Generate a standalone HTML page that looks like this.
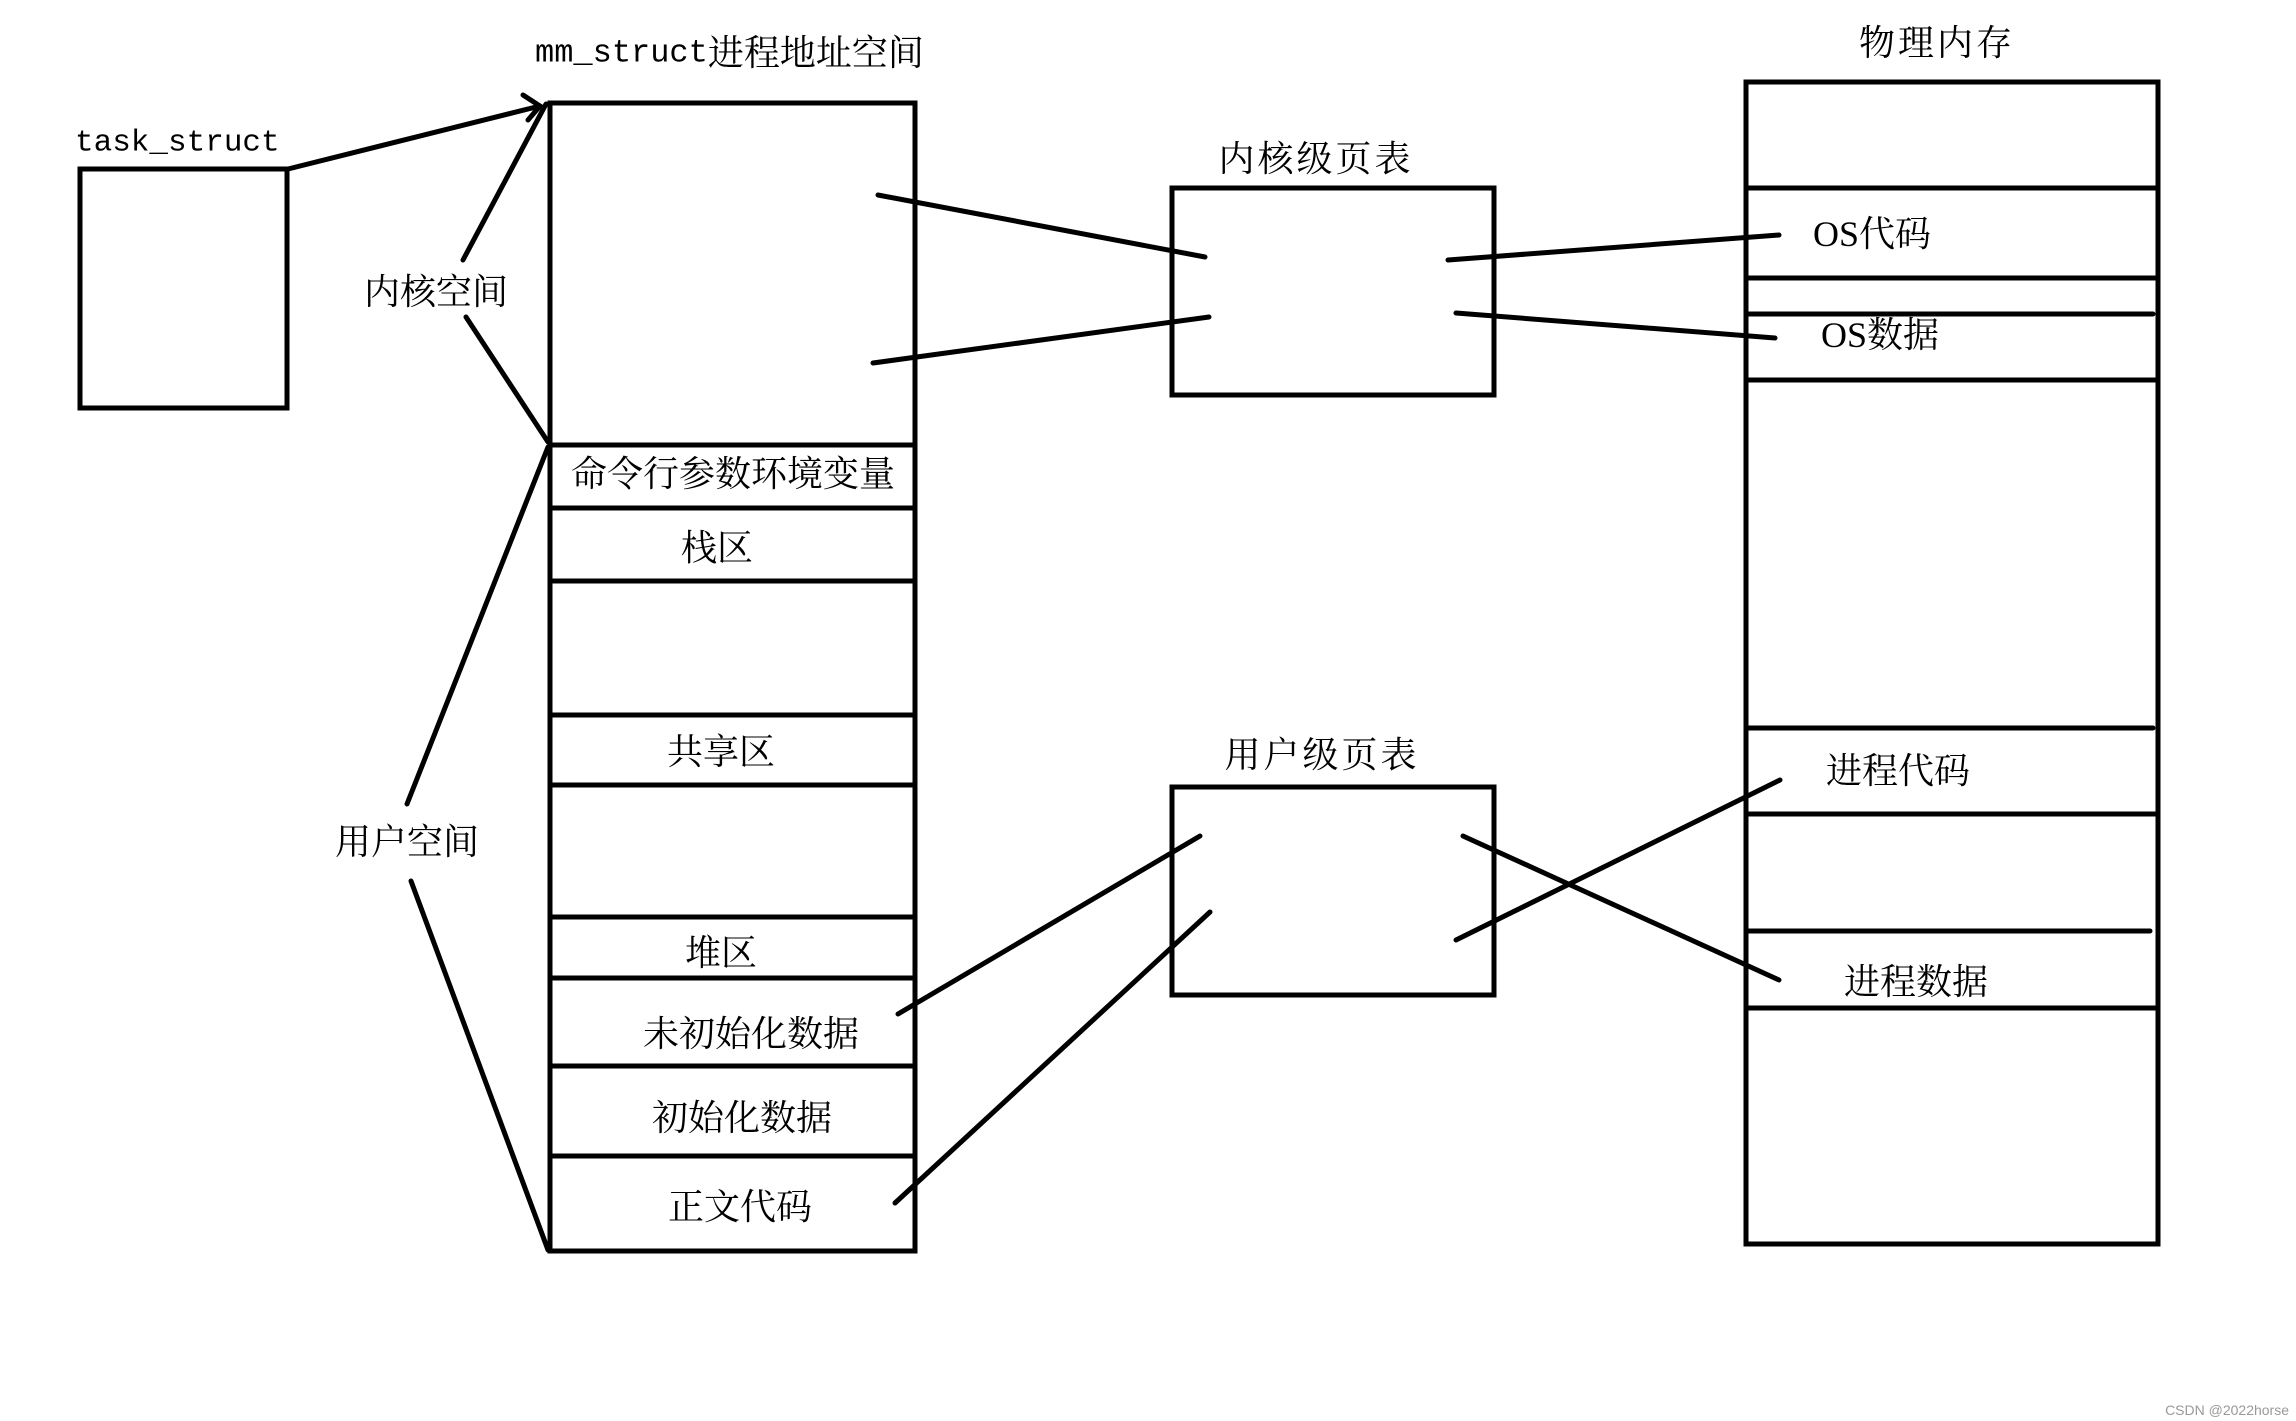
<!DOCTYPE html>
<html><head><meta charset="utf-8"><style>
html,body{margin:0;padding:0;background:#fff;}
svg{display:block;}
text{font-family:"Liberation Serif","Noto Serif CJK SC",serif;fill:#000;}
.m{font-family:"Liberation Mono","Noto Serif CJK SC",monospace;}
</style></head><body>
<svg width="2296" height="1421" viewBox="0 0 2296 1421" xmlns="http://www.w3.org/2000/svg">
<g fill="none" stroke="#000" stroke-width="5" stroke-linecap="round">
<!-- task_struct -->
<rect x="80" y="169" width="207" height="239"/>
<line x1="288" y1="169" x2="540" y2="106"/>
<polyline points="523,95 540,106 528,120"/>
<!-- mm box -->
<rect x="550" y="103" width="365" height="1148"/>
<line x1="550" y1="445" x2="915" y2="445"/>
<line x1="550" y1="508" x2="915" y2="508"/>
<line x1="553" y1="581" x2="915" y2="581"/>
<line x1="550" y1="715" x2="915" y2="715"/>
<line x1="550" y1="785" x2="915" y2="785"/>
<line x1="550" y1="917" x2="915" y2="917"/>
<line x1="550" y1="978" x2="915" y2="978"/>
<line x1="550" y1="1066" x2="915" y2="1066"/>
<line x1="553" y1="1156" x2="915" y2="1156"/>
<!-- braces -->
<line x1="546" y1="104" x2="463" y2="260"/>
<line x1="466" y1="317" x2="548" y2="442"/>
<line x1="548" y1="447" x2="407" y2="804"/>
<line x1="411" y1="881" x2="548" y2="1250"/>
<!-- page tables -->
<rect x="1172" y="188" width="322" height="207"/>
<rect x="1172" y="787" width="322" height="208"/>
<line x1="878" y1="195" x2="1205" y2="257"/>
<line x1="873" y1="363" x2="1209" y2="317"/>
<line x1="1448" y1="260" x2="1779" y2="235"/>
<line x1="1456" y1="313" x2="1775" y2="338"/>
<line x1="898" y1="1014" x2="1200" y2="836"/>
<line x1="895" y1="1203" x2="1210" y2="912"/>
<line x1="1456" y1="940" x2="1780" y2="780"/>
<line x1="1463" y1="836" x2="1779" y2="980"/>
<!-- physical memory -->
<rect x="1746" y="82" width="412" height="1162"/>
<line x1="1746" y1="188" x2="2158" y2="188"/>
<line x1="1746" y1="278" x2="2158" y2="278"/>
<line x1="1746" y1="314" x2="2153" y2="314"/>
<line x1="1746" y1="380" x2="2158" y2="380"/>
<line x1="1746" y1="728" x2="2153" y2="728"/>
<line x1="1746" y1="814" x2="2158" y2="814"/>
<line x1="1746" y1="931" x2="2150" y2="931"/>
<line x1="1746" y1="1008" x2="2158" y2="1008"/>
</g>
<g font-size="36" dominant-baseline="central">
<text class="m" x="535" y="53" font-size="32">mm_struct<tspan font-family="Liberation Serif, Noto Serif CJK SC, serif" font-size="36">进程地址空间</tspan></text>
<text class="m" x="75" y="143" font-size="31">task_struct</text>
<text x="436" y="292" text-anchor="middle">内核空间</text>
<text x="407" y="842" text-anchor="middle">用户空间</text>
<text x="733" y="474" text-anchor="middle">命令行参数环境变量</text>
<text x="717" y="548" text-anchor="middle">栈区</text>
<text x="721" y="752" text-anchor="middle">共享区</text>
<text x="721" y="953" text-anchor="middle">堆区</text>
<text x="751" y="1034" text-anchor="middle">未初始化数据</text>
<text x="742" y="1118" text-anchor="middle">初始化数据</text>
<text x="740" y="1207" text-anchor="middle">正文代码</text>
<text x="1316" y="159" text-anchor="middle" letter-spacing="3">内核级页表</text>
<text x="1322" y="755" text-anchor="middle" letter-spacing="3">用户级页表</text>
<text x="1937" y="43" text-anchor="middle" letter-spacing="3">物理内存</text>
<text x="1813" y="234">OS代码</text>
<text x="1821" y="335">OS数据</text>
<text x="1826" y="771">进程代码</text>
<text x="1844" y="982">进程数据</text>
</g>
<text x="2289" y="1415" font-size="14" text-anchor="end" style="font-family:'Liberation Sans',sans-serif;fill:#999">CSDN @2022horse</text>
</svg>
</body></html>
